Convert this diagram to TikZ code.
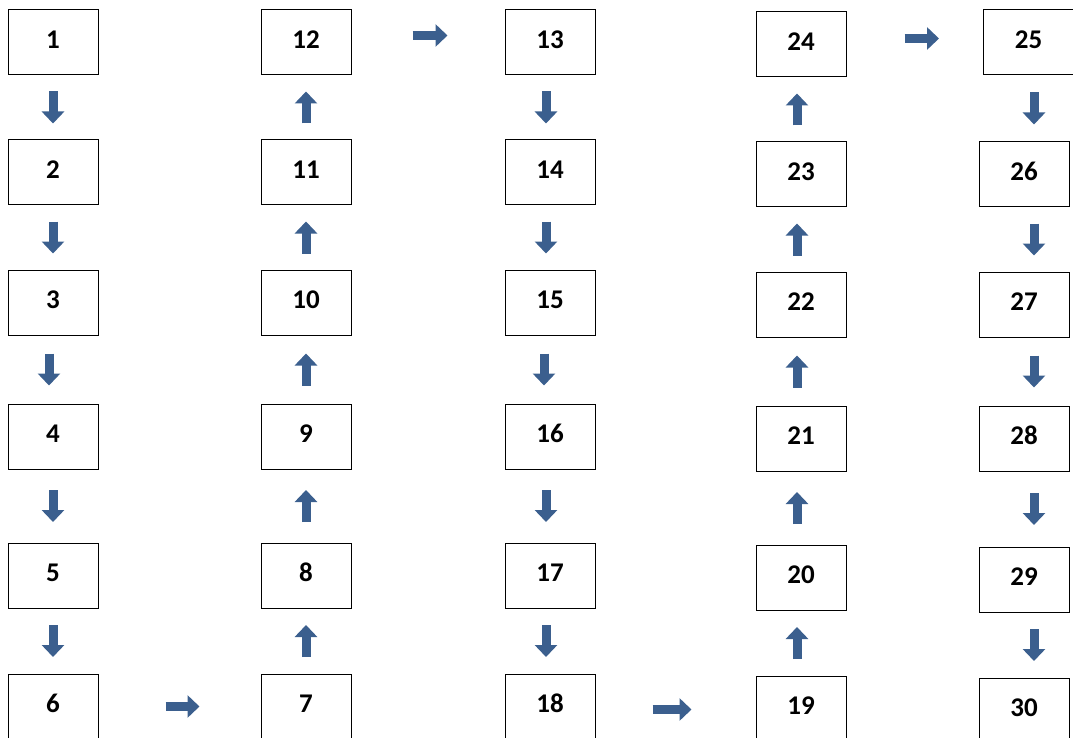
\documentclass[tikz,border=0pt]{standalone}
\usepackage{fontspec}
\setmainfont{Carlito}
\usetikzlibrary{arrows.meta}
\definecolor{arrowblue}{HTML}{3B5F8E}
\tikzset{
  box/.style={draw=black, line width=1pt, fill=white, minimum width=90pt, minimum height=65pt,
    inner sep=0pt, text depth=6pt, font=\fontsize{27}{32}\selectfont\bfseries},
  barrow/.style={draw=arrowblue, line width=9pt, -{Triangle[width=22pt,length=12pt]}},
  gapv/.style={shorten <=#1pt, shorten >=#1pt}
}
\begin{document}
\begin{tikzpicture}[x=1pt,y=-1pt]
\useasboundingbox (0,0) rectangle (1073,738);
\clip (0,0) rectangle (1073,738);
% column 1
\node[box] (b1) at (53,42.5) {1};
\node[box] (b2) at (53,172.5) {2};
\node[box] (b3) at (53,302.5) {3};
\node[box] (b4) at (53,436.5) {4};
\node[box] (b5) at (53,575.5) {5};
\node[box] (b6) at (53,706.5) {6};
% column 2
\node[box] (b7) at (306,706.5) {7};
\node[box] (b8) at (306,575.5) {8};
\node[box] (b9) at (306,436.5) {9};
\node[box] (b10) at (306,302.5) {10};
\node[box] (b11) at (306,172.5) {11};
\node[box] (b12) at (306,42.5) {12};
% column 3
\node[box] (b13) at (550,42.5) {13};
\node[box] (b14) at (550,172.5) {14};
\node[box] (b15) at (550,302.5) {15};
\node[box] (b16) at (550,436.5) {16};
\node[box] (b17) at (550,575.5) {17};
\node[box] (b18) at (550,706.5) {18};
% column 4
\node[box] (b19) at (801,708.5) {19};
\node[box] (b20) at (801,577.5) {20};
\node[box] (b21) at (801,438.5) {21};
\node[box] (b22) at (801,304.5) {22};
\node[box] (b23) at (801,174.5) {23};
\node[box] (b24) at (801,44.5) {24};
% column 5
\node[box] (b25) at (1028.5,42.5) {25};
\node[box] (b26) at (1024,174.5) {26};
\node[box] (b27) at (1024,304.5) {27};
\node[box] (b28) at (1024,438.5) {28};
\node[box] (b29) at (1024,579.5) {29};
\node[box] (b30) at (1024,710.5) {30};
% column 1 arrows (down)
\draw[barrow,gapv=16] (b1.south) -- (b1.south |- b2.north);
\draw[barrow,gapv=16] (b2.south) -- (b2.south |- b3.north);
\draw[barrow,gapv=18] ([xshift=-4pt]b3.south) -- ([xshift=-4pt]b3.south |- b4.north);
\draw[barrow,gapv=20.5] (b4.south) -- (b4.south |- b5.north);
\draw[barrow,gapv=16.5] (b5.south) -- (b5.south |- b6.north);
% column 2 arrows (up)
\draw[barrow,gapv=16.5] (b7.north) -- (b7.north |- b8.south);
\draw[barrow,gapv=20.5] (b8.north) -- (b8.north |- b9.south);
\draw[barrow,gapv=18] (b9.north) -- (b9.north |- b10.south);
\draw[barrow,gapv=16] (b10.north) -- (b10.north |- b11.south);
\draw[barrow,gapv=16] (b11.north) -- (b11.north |- b12.south);
% column 3 arrows (down)
\draw[barrow,gapv=16] ([xshift=-4pt]b13.south) -- ([xshift=-4pt]b13.south |- b14.north);
\draw[barrow,gapv=16] ([xshift=-4pt]b14.south) -- ([xshift=-4pt]b14.south |- b15.north);
\draw[barrow,gapv=18] ([xshift=-6pt]b15.south) -- ([xshift=-6pt]b15.south |- b16.north);
\draw[barrow,gapv=20.5] ([xshift=-4pt]b16.south) -- ([xshift=-4pt]b16.south |- b17.north);
\draw[barrow,gapv=16.5] ([xshift=-4pt]b17.south) -- ([xshift=-4pt]b17.south |- b18.north);
% column 4 arrows (up)
\draw[barrow,gapv=16.5] ([xshift=-4pt]b19.north) -- ([xshift=-4pt]b19.north |- b20.south);
\draw[barrow,gapv=20.5] ([xshift=-4pt]b20.north) -- ([xshift=-4pt]b20.north |- b21.south);
\draw[barrow,gapv=18] ([xshift=-4pt]b21.north) -- ([xshift=-4pt]b21.north |- b22.south);
\draw[barrow,gapv=16] ([xshift=-4pt]b22.north) -- ([xshift=-4pt]b22.north |- b23.south);
\draw[barrow,gapv=16] ([xshift=-4pt]b23.north) -- ([xshift=-4pt]b23.north |- b24.south);
% column 5 arrows (down)
\draw[barrow,gapv=17] ([xshift=10pt]b26.north |- b25.south) -- ([xshift=10pt]b26.north);
\draw[barrow,gapv=16] ([xshift=10pt]b26.south) -- ([xshift=10pt]b26.south |- b27.north);
\draw[barrow,gapv=18] ([xshift=10pt]b27.south) -- ([xshift=10pt]b27.south |- b28.north);
\draw[barrow,gapv=21.5] ([xshift=10pt]b28.south) -- ([xshift=10pt]b28.south |- b29.north);
\draw[barrow,gapv=16.5] ([xshift=10pt]b29.south) -- ([xshift=10pt]b29.south |- b30.north);
% horizontal arrows
\draw[barrow,shorten <=67pt,shorten >=61pt] (b6.east) -- (b6.east -| b7.west);
\draw[barrow,shorten <=61pt,shorten >=57pt] ([yshift=7pt]b12.east) -- ([yshift=7pt]b12.east -| b13.west);
\draw[barrow,shorten <=57pt,shorten >=64pt] ([yshift=-3pt]b18.east) -- ([yshift=-3pt]b18.east -| b19.west);
\draw[barrow,shorten <=58pt,shorten >=44pt] ([yshift=6pt]b24.east) -- ([yshift=6pt]b24.east -| b25.west);
\end{tikzpicture}
\end{document}
